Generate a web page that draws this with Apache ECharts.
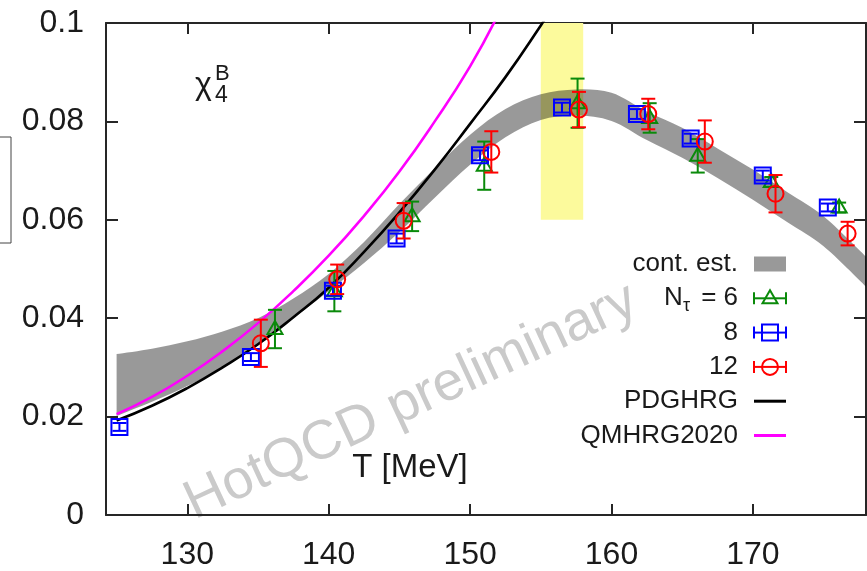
<!DOCTYPE html>
<html>
<head>
<meta charset="utf-8">
<script src="https://cdn.jsdelivr.net/npm/echarts@6/dist/echarts.min.js"></script>
<style>
  html, body { margin: 0; padding: 0; background: #fff; }
  #chart { width: 867px; height: 571px; }
</style>
</head>
<body>
<div id="chart"></div>
<script>
// ---- data -------------------------------------------------------------
const xTicks = [130, 140, 150, 160, 170];

// continuum estimate band (lower / upper edge)
const bandT    = [125, 127.5, 130, 132.5, 135, 137.5, 140, 142.5, 145, 147.5, 150, 152.5, 155, 157.5, 160, 162.5, 165, 167.5, 170, 172.5, 175, 178];
const bandLow  = [0.0201, 0.0230, 0.0262, 0.0300, 0.0345, 0.0400, 0.0455, 0.0512, 0.0575, 0.0645, 0.0712, 0.0768, 0.0803, 0.0812, 0.0801, 0.0762, 0.0726, 0.0685, 0.0641, 0.0594, 0.0546, 0.0464];
const bandHigh = [0.0327, 0.0338, 0.0353, 0.0373, 0.0400, 0.0440, 0.0490, 0.0555, 0.0632, 0.0705, 0.0773, 0.0825, 0.0855, 0.0865, 0.0858, 0.0820, 0.0787, 0.0745, 0.0702, 0.0655, 0.0607, 0.0525];

// HRG curves
const pdgT = [125, 127.5, 130, 132.5, 135, 137.5, 140, 142.5, 145, 147.5, 150, 152.5, 155, 156];
const pdgV = [0.0192, 0.0222, 0.0258, 0.0300, 0.0347, 0.0402, 0.0462, 0.0535, 0.0615, 0.0702, 0.0795, 0.0890, 0.0995, 0.1040];
const qmT  = [125, 127.5, 130, 132.5, 135, 137.5, 140, 142.5, 145, 147.5, 150, 152];
const qmV  = [0.0205, 0.0240, 0.0283, 0.0333, 0.0390, 0.0455, 0.0527, 0.0608, 0.0698, 0.0800, 0.0912, 0.1018];

// pseudo-critical temperature range
const tcRange  = [155, 158];
const tcYRange = [0.06, 0.1];

// lattice results: [T, chi4B, error]
const nt6 = [
  [136.2, 0.0378, 0.0039], [140.4, 0.0455, 0.0041], [145.9, 0.0607, 0.0030],
  [151.0, 0.0710, 0.0049], [157.6, 0.0837, 0.0050], [162.7, 0.0807, 0.0030],
  [166.1, 0.0730, 0.0034], [171.3, 0.0677, 0.0010], [176.1, 0.0625, 0.0010]
];
const nt8 = [
  [125.2, 0.0179, 0.0008], [134.5, 0.0321, 0.0008], [140.3, 0.0456, 0.0010],
  [144.8, 0.0562, 0.0010], [150.7, 0.0731, 0.0010], [156.5, 0.0828, 0.0010],
  [161.8, 0.0815, 0.0010], [165.6, 0.0765, 0.0010], [170.7, 0.0690, 0.0010],
  [175.3, 0.0625, 0.0008]
];
const nt12 = [
  [135.2, 0.0349, 0.0048], [140.6, 0.0479, 0.0030], [145.3, 0.0598, 0.0036],
  [151.5, 0.0738, 0.0042], [157.7, 0.0824, 0.0036], [162.6, 0.0815, 0.0031],
  [166.6, 0.0759, 0.0043], [171.6, 0.0653, 0.0038], [176.7, 0.0572, 0.0024]
];

// ---- styling ----------------------------------------------------------
const FONT = '"Liberation Sans", Arial, Helvetica, sans-serif';
const INK = '#1a1a1a';
const FRAME = '#262626';
const GREEN = '#0a8a0a', BLUE = '#0000ff', RED = '#ff0000', MAGENTA = '#ff00ff';
const BAND = 'rgba(0,0,0,0.4)';
const YELLOW = '#fcfa9c';

const zip = (xs, ys) => xs.map((x, i) => [x, ys[i]]);
const bandRows = bandT.map((t, i) => [t, bandLow[i], bandHigh[i]]);

// Catmull-Rom spline through pixel points, as SVG path commands
function splinePath(pts, moveFirst) {
  let d = (moveFirst ? 'M' : 'L') + pts[0][0] + ',' + pts[0][1];
  for (let i = 0; i < pts.length - 1; i++) {
    const p0 = pts[Math.max(i - 1, 0)], p1 = pts[i], p2 = pts[i + 1], p3 = pts[Math.min(i + 2, pts.length - 1)];
    const c1 = [p1[0] + (p2[0] - p0[0]) / 6, p1[1] + (p2[1] - p0[1]) / 6];
    const c2 = [p2[0] - (p3[0] - p1[0]) / 6, p2[1] - (p3[1] - p1[1]) / 6];
    d += 'C' + c1[0] + ',' + c1[1] + ',' + c2[0] + ',' + c2[1] + ',' + p2[0] + ',' + p2[1];
  }
  return d;
}

function markerShape(kind, cx, cy, color) {
  const style = { stroke: color, lineWidth: 2, fill: 'none' };
  if (kind === 'triangle') {
    return { type: 'polygon', shape: { points: [[cx - 7.5, cy + 5], [cx + 7.5, cy + 5], [cx, cy - 8]] }, style };
  }
  if (kind === 'square') {
    return { type: 'rect', shape: { x: cx - 8, y: cy - 8, width: 16, height: 16 }, style };
  }
  return { type: 'circle', shape: { cx, cy, r: 8 }, style };
}

function errorSeries(name, data, color, kind, z) {
  return {
    type: 'custom', name, data, z, silent: true,
    encode: { x: 0, y: 1 },
    renderItem(params, api) {
      const x = api.value(0), y = api.value(1), e = api.value(2);
      const c = api.coord([x, y]);
      const t = api.coord([x, y + e]);
      const b = api.coord([x, y - e]);
      const st = { stroke: color, lineWidth: 2, fill: 'none' };
      const hw = 7;
      return {
        type: 'group',
        children: [
          { type: 'line', shape: { x1: c[0], y1: t[1], x2: c[0], y2: b[1] }, style: st },
          { type: 'line', shape: { x1: c[0] - hw, y1: t[1], x2: c[0] + hw, y2: t[1] }, style: st },
          { type: 'line', shape: { x1: c[0] - hw, y1: b[1], x2: c[0] + hw, y2: b[1] }, style: st },
          markerShape(kind, c[0], c[1], color)
        ]
      };
    }
  };
}

// ---- legend (drawn as graphics, gnuplot style: text right, key left) ----
const legendTop = 264, legendStep = 34.3, keyX0 = 754, keyX1 = 786, textRight = 738;
const legendFont = '26px ' + FONT;
const legendItems = [];
function legendText(text, i) {
  legendItems.push({ type: 'text', x: textRight, y: legendTop + i * legendStep,
    style: { text, font: legendFont, fill: INK, align: 'right', verticalAlign: 'middle' } });
}
function legendErrKey(i, color, kind) {
  const y = legendTop + i * legendStep, cx = (keyX0 + keyX1) / 2;
  const st = { stroke: color, lineWidth: 2, fill: 'none' };
  legendItems.push(
    { type: 'line', shape: { x1: keyX0, y1: y, x2: keyX1, y2: y }, style: st },
    { type: 'line', shape: { x1: keyX0, y1: y - 6, x2: keyX0, y2: y + 6 }, style: st },
    { type: 'line', shape: { x1: keyX1, y1: y - 6, x2: keyX1, y2: y + 6 }, style: st },
    markerShape(kind, cx, y, color)
  );
}
function legendLineKey(i, color) {
  const y = legendTop + i * legendStep;
  legendItems.push({ type: 'line', shape: { x1: keyX0, y1: y, x2: keyX1, y2: y },
    style: { stroke: color, lineWidth: 3 } });
}
legendText('cont. est.', 0);
legendItems.push({ type: 'rect', shape: { x: keyX0, y: legendTop - 7.5, width: keyX1 - keyX0, height: 15 }, style: { fill: BAND } });
// N_tau = 6
legendItems.push(
  { type: 'text', x: 664, y: legendTop + legendStep, style: { text: 'N', font: legendFont, fill: INK, align: 'left', verticalAlign: 'middle' } },
  { type: 'text', x: 683, y: legendTop + legendStep + 8, style: { text: 'τ', font: '18px ' + FONT, fill: INK, align: 'left', verticalAlign: 'middle' } },
  { type: 'text', x: textRight, y: legendTop + legendStep, style: { text: '= 6', font: legendFont, fill: INK, align: 'right', verticalAlign: 'middle' } }
);
legendErrKey(1, GREEN, 'triangle');
legendText('8', 2);  legendErrKey(2, BLUE, 'square');
legendText('12', 3); legendErrKey(3, RED, 'circle');
legendText('PDGHRG', 4);    legendLineKey(4, '#000');
legendText('QMHRG2020', 5); legendLineKey(5, MAGENTA);

const chart = echarts.init(document.getElementById('chart'), null, { renderer: 'canvas' });

const xAx = (pos) => ({
  type: 'value', position: pos, min: 124.25, max: 178,
  axisLine: { show: true, onZero: false, lineStyle: { color: FRAME, width: 2 } },
  axisTick: { show: true, inside: true, length: 11, customValues: xTicks, lineStyle: { color: FRAME, width: 2 } },
  axisLabel: { show: pos === 'bottom', customValues: xTicks, fontSize: 32, fontFamily: FONT, color: INK, margin: 24 },
  splitLine: { show: false }
});
const yAx = (pos) => ({
  type: 'value', position: pos, min: 0, max: 0.1, interval: 0.02,
  axisLine: { show: true, onZero: false, lineStyle: { color: FRAME, width: 2 } },
  axisTick: { show: true, inside: true, length: 12, lineStyle: { color: FRAME, width: 2 } },
  axisLabel: { show: pos === 'left', fontSize: 32, fontFamily: FONT, color: INK, margin: 22,
    formatter: v => v === 0 ? '0' : String(+v.toFixed(2)) },
  splitLine: { show: false }
});

chart.setOption({
  animation: false,
  backgroundColor: '#fff',
  grid: { left: 106, top: 23, right: 1, bottom: 55 },
  xAxis: [xAx('bottom'), xAx('top')],
  yAxis: [yAx('left'), yAx('right')],
  series: [
    {
      // carries the T_c window
      type: 'line', name: 'Tc', data: [], symbol: 'none', z: 1, silent: true,
      markArea: {
        silent: true, itemStyle: { color: YELLOW, opacity: 1 },
        data: [[{ coord: [tcRange[0], tcYRange[0]] }, { coord: [tcRange[1], tcYRange[1]] }]]
      }
    },
    {
      // continuum estimate: upper edge left to right, lower edge back
      type: 'custom', name: 'cont. est.', data: bandRows, z: 2, silent: true,
      encode: { x: 0, y: [1, 2] },
      renderItem(params, api) {
        if (params.dataIndex !== 0) return null;
        const upper = bandRows.map(r => api.coord([r[0], r[2]]));
        const lower = bandRows.map(r => api.coord([r[0], r[1]])).reverse();
        const d = splinePath(upper, true) + splinePath(lower, false) + 'Z';
        return { type: 'path', shape: { pathData: d }, style: { fill: BAND, stroke: 'none' } };
      }
    },
    {
      type: 'line', name: 'PDGHRG', data: zip(pdgT, pdgV), smooth: true, symbol: 'none',
      lineStyle: { color: '#000', width: 2.6 }, z: 3, silent: true
    },
    {
      type: 'line', name: 'QMHRG2020', data: zip(qmT, qmV), smooth: true, symbol: 'none',
      lineStyle: { color: MAGENTA, width: 2.6 }, z: 3, silent: true
    },
    errorSeries('Nt=6', nt6, GREEN, 'triangle', 4),
    errorSeries('Nt=8', nt8, BLUE, 'square', 5),
    errorSeries('Nt=12', nt12, RED, 'circle', 6)
  ],
  graphic: [
    // watermark
    { type: 'text', x: 411, y: 402, rotation: 25 * Math.PI / 180, z: 0, silent: true,
      style: { text: 'HotQCD preliminary', font: '55px ' + FONT, fill: '#cacaca', align: 'center', verticalAlign: 'middle' } },
    // observable label chi_4^B
    { type: 'text', x: 195, y: 85, style: { text: 'χ', font: '32px ' + FONT, fill: INK, align: 'left', verticalAlign: 'middle' } },
    { type: 'text', x: 215, y: 96, style: { text: '4', font: '23px ' + FONT, fill: INK, align: 'left', verticalAlign: 'middle' } },
    { type: 'text', x: 215, y: 74, style: { text: 'B', font: '22px ' + FONT, fill: INK, align: 'left', verticalAlign: 'middle' } },
    // axis title
    { type: 'text', x: 410, y: 468, style: { text: 'T [MeV]', font: '33px ' + FONT, fill: INK, align: 'center', verticalAlign: 'middle' } },
    // partial box at the left edge
    { type: 'polyline', shape: { points: [[-2, 137], [11, 137], [11, 243], [-2, 243]] }, style: { stroke: '#444', lineWidth: 1, fill: 'none' } },
    { type: 'group', children: legendItems }
  ]
});
</script>
</body>
</html>
